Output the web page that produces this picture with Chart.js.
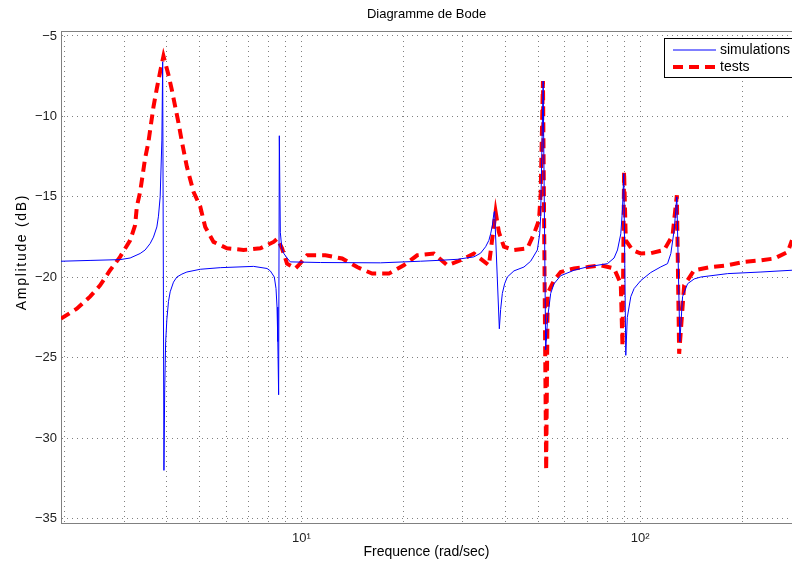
<!DOCTYPE html>
<html>
<head>
<meta charset="utf-8">
<script src="https://cdn.jsdelivr.net/npm/chart.js@4.4.1/dist/chart.umd.min.js"></script>
<style>
html,body{margin:0;padding:0;background:#fff;}
#wrap{width:792px;height:566px;position:relative;}
canvas{display:block;}
</style>
</head>
<body>
<div id="wrap"><canvas id="c" width="792" height="566"></canvas></div>
<script>
// ---- data ----
const simFreq = [1.952, 2.378, 2.917, 3.123, 3.343, 3.458, 3.578, 3.660, 3.745, 3.786, 3.830, 3.875, 3.896, 3.930, 3.950, 3.976, 4.009, 4.053, 4.100, 4.193, 4.291, 4.440, 4.593, 5.029, 5.762, 7.228, 7.918, 8.098, 8.321, 8.418, 8.476, 8.522, 8.569, 8.609, 8.668, 8.757, 8.865, 9.073, 9.279, 11.38, 17.12, 22.48, 25.76, 28.86, 32.31, 33.81, 34.99, 35.78, 36.20, 36.62, 37.02, 37.20, 38.41, 38.75, 39.20, 39.82, 40.55, 42.42, 45.41, 47.52, 49.74, 50.53, 50.87, 51.74, 52.63, 53.35, 54.45, 55.69, 58.29, 63.82, 69.91, 80.10, 83.78, 85.75, 87.69, 88.71, 89.50, 90.73, 91.66, 93.87, 96.00, 100.48, 107.55, 115.13, 120.50, 123.24, 126.04, 128.38, 131.02, 133.45, 138.07, 144.42, 151.16, 181.28, 227.39, 280.76];
const simAmp = [-19.0, -18.95, -18.9, -18.8, -18.52, -18.3, -17.9, -17.5, -16.87, -16.2, -15.0, -11.47, -6.6, -32.0, -27.0, -24.0, -22.6, -21.5, -20.9, -20.3, -19.98, -19.8, -19.67, -19.5, -19.4, -19.32, -19.45, -19.6, -19.98, -20.7, -21.85, -24.0, -27.3, -11.2, -17.2, -18.2, -18.5, -18.8, -19.04, -19.08, -19.1, -19.0, -18.94, -18.88, -18.73, -18.5, -18.1, -17.7, -17.3, -16.8, -16.0, -15.9, -23.2, -22.0, -21.0, -20.4, -19.98, -19.6, -19.36, -19.0, -18.3, -17.3, -16.2, -7.8, -24.5, -22.5, -21.0, -20.4, -19.9, -19.56, -19.35, -19.15, -18.8, -18.3, -17.3, -15.8, -13.55, -24.85, -22.5, -21.2, -20.7, -20.2, -19.7, -19.35, -19.15, -18.52, -17.07, -15.0, -24.0, -21.2, -20.4, -20.1, -19.98, -19.77, -19.67, -19.56];

const testFreq = [1.952, 2.173, 2.378, 2.546, 2.725, 2.917, 3.123, 3.231, 3.269, 3.343, 3.458, 3.537, 3.660, 3.745, 3.830, 3.917, 4.053, 4.148, 4.338, 4.440, 4.593, 4.804, 5.029, 5.203, 5.505, 6.031, 6.752, 7.565, 8.282, 8.493, 8.769, 9.073, 9.600, 9.818, 10.40, 11.78, 13.19, 14.61, 16.18, 18.12, 20.06, 21.98, 24.61, 26.96, 29.51, 32.31, 35.78, 37.45, 38.30, 39.63, 42.42, 46.47, 48.60, 50.29, 50.87, 51.67, 52.81, 53.35, 55.69, 58.29, 63.82, 69.91, 76.54, 83.78, 87.69, 88.71, 89.68, 90.73, 94.96, 100.48, 107.55, 117.75, 124.67, 128.38, 130.40, 134.91, 144.42, 161.81, 181.28, 202.96, 227.39, 248.94, 272.72, 280.76];
const testAmp = [-22.57, -21.95, -21.2, -20.5, -19.56, -18.73, -17.7, -16.76, -15.6, -14.69, -12.6, -11.58, -9.4, -8.25, -7.22, -6.25, -7.43, -8.36, -10.4, -11.58, -13.13, -14.69, -15.6, -16.87, -17.8, -18.2, -18.3, -18.2, -17.8, -17.6, -18.2, -19.15, -19.45, -19.25, -18.63, -18.63, -18.83, -19.36, -19.77, -19.77, -19.25, -18.63, -18.52, -19.25, -18.94, -18.52, -19.25, -15.93, -17.2, -18.1, -18.3, -18.2, -17.3, -16.45, -14.8, -7.8, -32.0, -21.0, -20.2, -19.67, -19.45, -19.36, -19.25, -19.45, -20.4, -24.3, -13.4, -17.7, -18.3, -18.52, -18.5, -18.3, -17.4, -14.9, -24.75, -20.5, -19.56, -19.36, -19.25, -19.04, -18.94, -18.83, -18.42, -17.7];

const seriesNames = ['simulations', 'tests'];
const yTicks = [-35, -30, -25, -20, -15, -10, -5];
const xGridTicks = [2, 3, 4, 5, 6, 7, 8, 9, 10, 20, 30, 40, 50, 60, 70, 80, 90, 100, 200];
const xTickLabels = {10: '10\u00B9', 100: '10\u00B2'};
const chartTitle = 'Diagramme de Bode';
const xTitle = 'Frequence (rad/sec)';
const yTitle = 'Amplitude (dB)';
const xRange = [1.952, 280.8];
const yRange = [-35.27, -4.69];

// ---- chart ----
const FONT = '"Liberation Sans", Arial, Helvetica, sans-serif';
const toPts = (xs, ys) => xs.map((x, i) => ({x: x, y: ys[i]}));

const overlay = {
  id: 'overlay',
  afterDraw(chart) {
    const ctx = chart.ctx;
    // y axis title
    ctx.save();
    ctx.translate(22, 252);
    ctx.rotate(-Math.PI / 2);
    ctx.font = '14px ' + FONT;
    try { ctx.letterSpacing = '1.7px'; } catch (e) {}
    ctx.fillStyle = '#000';
    ctx.textAlign = 'center';
    ctx.textBaseline = 'middle';
    ctx.fillText(yTitle, 0, 0);
    ctx.restore();
    // legend box (MATLAB style, inside axes, top right)
    const bx = 664, by = 38, bw = 140, bh = 39;
    ctx.save();
    ctx.fillStyle = '#fff';
    ctx.fillRect(bx, by, bw, bh);
    ctx.strokeStyle = '#000';
    ctx.lineWidth = 1;
    ctx.strokeRect(bx + 0.5, by + 0.5, bw, bh);
    chart.data.datasets.forEach((ds, i) => {
      const y = by + 12 + i * 17;
      ctx.beginPath();
      ctx.strokeStyle = ds.borderColor;
      ctx.lineWidth = ds.borderWidth;
      ctx.setLineDash(ds.borderDash || []);
      ctx.moveTo(bx + 9, y);
      ctx.lineTo(bx + 52, y);
      ctx.stroke();
      ctx.setLineDash([]);
      ctx.fillStyle = '#000';
      ctx.font = '14px ' + FONT;
      ctx.textAlign = 'left';
      ctx.textBaseline = 'middle';
      ctx.fillText(ds.label, bx + 56, y);
    });
    ctx.restore();
  }
};

new Chart(document.getElementById('c'), {
  type: 'line',
  data: {
    datasets: [
      {
        label: seriesNames[0],
        data: toPts(simFreq, simAmp),
        borderColor: '#0000ff',
        borderWidth: 1,
        pointRadius: 0,
        tension: 0,
        fill: false,
        xAxisID: 'x',
        yAxisID: 'y'
      },
      {
        label: seriesNames[1],
        data: toPts(testFreq, testAmp),
        borderColor: '#ff0000',
        borderWidth: 4,
        borderDash: [10, 6],
        borderCapStyle: 'butt',
        pointRadius: 0,
        tension: 0,
        fill: false,
        xAxisID: 'x',
        yAxisID: 'y'
      }
    ]
  },
  options: {
    responsive: false,
    animation: false,
    devicePixelRatio: 1,
    layout: {padding: 0},
    plugins: {
      legend: {display: false},
      title: {display: false},
      tooltip: {enabled: false}
    },
    scales: {
      x: {
        type: 'logarithmic',
        position: 'bottom',
        min: xRange[0],
        max: xRange[1],
        afterBuildTicks: s => { s.ticks = xGridTicks.map(v => ({value: v})); },
        afterFit: s => { s.height = 43; },
        ticks: {
          autoSkip: false,
          maxRotation: 0,
          padding: 8,
          color: '#222',
          font: {family: FONT, size: 13},
          callback: v => xTickLabels[v] || ''
        },
        grid: {color: '#808080', lineWidth: 1, drawTicks: false},
        border: {display: true, color: '#808080', width: 1, dash: [1, 4]},
        title: {display: true, text: xTitle, color: '#000', font: {family: FONT, size: 14}, padding: {top: 0, bottom: 5}}
      },
      x2: {
        type: 'logarithmic',
        position: 'top',
        min: xRange[0],
        max: xRange[1],
        afterFit: s => { s.height = 31; },
        ticks: {display: false},
        grid: {drawOnChartArea: false, drawTicks: false},
        border: {display: true, color: '#808080', width: 1},
        title: {display: true, text: chartTitle, color: '#000', font: {family: FONT, size: 13}, padding: {top: 7, bottom: 0}}
      },
      y: {
        type: 'linear',
        position: 'left',
        min: yRange[0],
        max: yRange[1],
        afterBuildTicks: s => { s.ticks = yTicks.map(v => ({value: v})); },
        afterFit: s => { s.width = 61; },
        ticks: {
          padding: 4,
          color: '#222',
          font: {family: FONT, size: 13},
          callback: v => (v < 0 ? '\u2212' : '') + Math.abs(v)
        },
        grid: {color: '#808080', lineWidth: 1, drawTicks: false},
        border: {display: true, color: '#808080', width: 1, dash: [1, 4]}
      }
    }
  },
  plugins: [overlay]
});
</script>
</body>
</html>
